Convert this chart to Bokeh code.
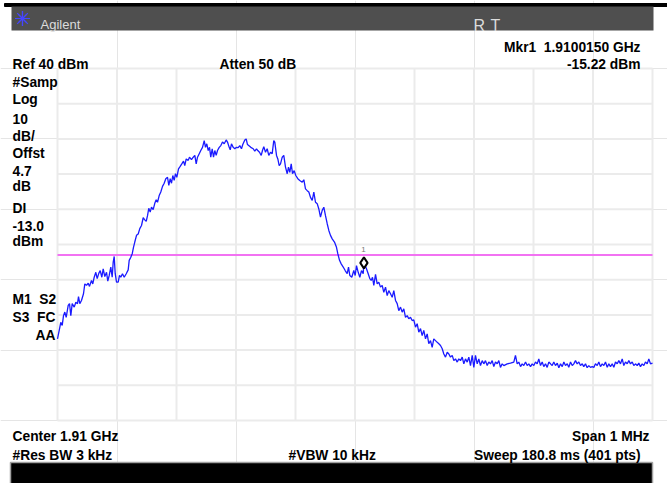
from bokeh.plotting import figure
from bokeh.models import Label, Range1d
from bokeh.embed import file_html
from bokeh.resources import INLINE

# ---------------- data ----------------
center_ghz = 1.91
span_mhz = 1.0
ref_dbm = 40.0
db_per_div = 10.0
n_div = 10
display_line_dbm = -13.0
marker_khz = 15.0          # 1.9100150 GHz
marker_dbm = -15.22

freq_khz_a = [
    -500, -497.1, -494.5, -492.1, -489.9, -487.7, -485.4, -482.0, -479.8, -477.6,
    -475.3, -471.9, -469.2, -466.4, -464.7, -462.5, -459.7, -456.3, -454.1, -451.3,
    -448.4, -446.2, -442.9, -440.7, -438.3, -435.6, -433.3, -430.6, -428.2, -425.5,
    -423.2, -420.5, -417.6, -415.5, -413.1, -410.4, -408.1, -406.4, -404.7, -403.0,
    -400.8, -398.0, -395.8, -393.6, -390.8, -387.9, -384.5, -381.2, -379.5, -376.8,
    -374.4, -372.3, -370.1, -367.2, -364.4, -361.7, -358.8, -356.0, -353.3, -350.9,
    -348.7, -346.6, -344.2, -342.0, -339.2, -336.5, -334.1, -331.9, -329.1, -326.4,
    -323.5, -320.7, -318.0, -315.1, -312.9, -310.6, -308.4, -306.2, -303.9, -301.7,
    -299.5, -296.6, -293.8, -291.1, -288.2, -286.1, -283.7, -280.3, -278.2, -274.8,
    -271.9, -269.2, -266.9, -264.7, -261.8, -259.2, -256.3, -253.4, -251.3, -249.1,
    -246.7, -244.5, -242.4, -240.0, -237.8, -235.6, -233.3, -231.1, -228.2, -225.5,
    -222.7, -219.8, -216.5, -214.3, -211.4, -209.7, -207.6, -204.7, -202.0, -199.2,
    -196.3, -193.6, -190.8, -188.6, -185.2, -182.9, -180.7, -175.1,
]
level_dbm_a = [
    -36.8, -34.4, -32.1, -33.0, -30.2, -29.2, -30.7, -27.3, -26.8, -30.2,
    -26.8, -27.8, -26.4, -26.8, -24.8, -26.8, -25.9, -24.0, -21.2, -21.6,
    -21.0, -21.9, -20.2, -21.2, -19.3, -17.9, -19.7, -18.2, -17.4, -19.3,
    -16.9, -19.1, -17.9, -20.4, -18.8, -16.4, -19.3, -15.0, -13.4, -18.3,
    -20.7, -20.7, -18.8, -19.3, -18.3, -19.3, -18.3, -17.2, -14.5, -13.6,
    -12.6, -10.8, -9.3, -7.4, -7.0, -5.5, -4.6, -2.4, -3.0, -3.4,
    -1.8, 0.3, -0.8, 0.6, -0.1, 1.7, 2.7, 2.0, 3.9, 4.9,
    6.5, 7.4, 8.7, 9.1, 6.8, 8.7, 7.4, 9.6, 8.2, 10.1,
    9.1, 11.5, 12.2, 12.9, 13.7, 12.4, 14.3, 13.9, 14.8, 14.1,
    14.8, 15.3, 12.9, 14.8, 15.8, 16.7, 17.6, 19.5, 17.6, 18.6,
    16.7, 17.6, 14.8, 17.2, 14.8, 16.7, 15.3, 16.7, 17.6, 18.1,
    19.1, 18.6, 19.7, 19.1, 17.6, 16.9, 18.6, 17.6, 17.2, 17.6,
    17.5, 18.1, 17.2, 18.4, 19.7, 20.0, 18.4, 17.6,
]
freq_khz_b = [
    -171.1, -168.4, -165.5, -163.4, -160.5, -157.6, -155.5, -153.3, -150.4, -147.6,
    -144.9, -142.0, -139.2, -136.5, -134.8, -131.9, -129.7, -127.4, -125.2, -122.3,
    -119.7, -116.8, -113.9, -111.8, -109.6, -107.2, -105.0, -102.2, -99.5, -96.1,
    -92.8, -88.7, -86.0, -83.2, -80.3, -77.6, -74.8, -71.9, -69.2, -66.4,
    -63.5, -60.8, -58.0, -55.1, -52.4, -49.6, -46.7, -44.0, -41.2, -38.3,
    -34.5, -31.1, -28.9, -26.0, -23.2, -19.8, -16.5, -13.1, -10.9, -8.7,
    -5.4, -2.0, 0.3, 2.5, 5.4, 8.1, 10.9, 13.8, 15.0, 19.3,
    22.2, 24.9, 27.2, 29.4, 31.6, 34.5, 37.3, 40.0, 42.9, 45.7,
    48.4, 51.3, 54.1, 56.8, 59.7, 62.5, 65.2, 68.1, 70.9, 73.6,
    76.5, 79.3, 82.0, 84.9, 87.7, 90.4, 93.3, 96.1, 98.8, 101.7,
    104.5, 107.2, 110.1, 112.9, 115.6, 118.5, 121.3, 124.0, 126.9, 129.7,
    132.4, 135.3, 138.2, 140.9, 143.7,
]
level_dbm_b = [
    17.2, 16.5, 17.2, 16.7, 16.2, 15.3, 16.7, 17.8, 16.2, 17.2,
    15.3, 16.2, 15.8, 19.5, 19.1, 15.3, 14.3, 12.4, 12.9, 14.8,
    15.3, 12.0, 10.1, 12.0, 10.5, 12.9, 10.1, 11.0, 9.6, 8.7,
    8.2, 7.7, 8.4, 5.8, 5.3, 4.9, 3.4, 2.5, 4.9, 2.0,
    1.6, 0.1, -2.2, -0.3, 0.6, -1.8, -4.1, -6.0, -7.4, -8.4,
    -9.3, -10.8, -12.6, -14.5, -15.5, -16.4, -17.4, -18.3, -16.4, -18.8,
    -19.3, -17.4, -18.8, -16.0, -17.9, -19.3, -17.4, -18.3, -15.2, -16.9,
    -18.3, -19.7, -20.2, -19.3, -21.6, -18.5, -21.2, -20.7, -22.1, -21.6,
    -23.6, -22.1, -24.5, -23.1, -24.0, -25.0, -23.1, -25.9, -26.8, -28.8,
    -27.8, -29.2, -28.3, -30.7, -30.2, -31.1, -30.7, -31.6, -31.4, -33.5,
    -32.5, -34.9, -33.9, -35.9, -34.4, -36.8, -35.4, -38.2, -37.3, -39.2,
    -36.8, -37.3, -37.8, -38.2, -38.7,
]
freq_khz_c = [
    146.6, 149.3, 152.1, 155.0, 157.7, 160.5, 163.4, 166.1, 168.9, 171.8,
    174.5, 177.3, 180.2, 182.9, 185.7, 188.6, 191.3, 194.1, 197.0, 199.7,
    202.5, 205.4, 208.1, 210.9, 213.8, 216.5, 219.3, 222.2, 224.9, 227.7,
    230.6, 233.3, 236.1, 239.0, 241.7, 244.5, 247.4, 250.1, 255.8, 261.3,
    266.9, 269.7, 272.6, 275.3, 278.2, 281.0, 283.7, 286.6, 289.4, 292.1,
    295.0, 297.8, 300.5, 303.4, 306.2, 308.9, 311.8, 314.6, 317.3, 320.2,
    323.0, 325.7, 328.6, 331.4, 334.1, 337.0, 339.9, 342.6, 345.4, 348.3,
    351.0, 353.8, 356.7, 359.3, 362.2, 365.1, 367.7, 370.6, 373.4, 376.2,
    379.0, 381.9, 384.5, 387.4, 390.2, 392.9, 395.8, 398.7, 401.4, 404.2,
    407.1, 409.8, 412.6, 415.5, 418.2, 421.0, 423.9, 426.6, 429.4, 432.3,
    435.0, 437.8, 440.7, 443.4, 446.2, 449.1, 451.8, 454.6, 457.5, 460.2,
    463.0, 465.9, 468.6, 471.4, 474.3, 477.0, 479.8, 482.7, 485.4, 488.2,
    491.1, 493.8, 496.6, 500.0,
]
level_dbm_c = [
    -39.6, -41.1, -42.0, -40.6, -41.1, -42.0, -41.5, -43.0, -42.5, -43.4,
    -42.5, -43.0, -42.0, -43.9, -42.5, -43.4, -42.0, -44.4, -41.5, -44.9,
    -41.5, -43.9, -42.5, -44.4, -43.0, -43.9, -43.0, -44.4, -43.4, -43.9,
    -43.0, -44.7, -43.4, -43.9, -43.0, -44.9, -43.9, -44.4, -43.9, -43.7,
    -43.4, -41.5, -43.9, -43.4, -44.7, -43.9, -44.4, -43.4, -44.4, -43.9,
    -44.7, -43.9, -44.4, -43.4, -43.9, -42.5, -44.4, -43.4, -44.7, -43.9,
    -44.9, -43.4, -43.9, -44.4, -43.4, -44.4, -43.7, -45.0, -43.9, -44.7,
    -43.4, -44.4, -43.9, -44.9, -43.4, -44.4, -43.9, -43.0, -43.9, -43.4,
    -44.4, -43.9, -44.7, -43.9, -45.0, -44.4, -44.9, -44.7, -44.9, -43.9,
    -44.4, -43.4, -44.7, -43.9, -44.4, -43.4, -44.9, -43.9, -44.7, -43.9,
    -44.9, -43.4, -43.9, -43.0, -43.9, -42.5, -44.4, -43.4, -43.9, -43.0,
    -43.9, -43.4, -44.4, -43.9, -44.4, -43.7, -44.7, -43.9, -44.4, -43.4,
    -43.9, -42.5, -43.9, -43.7,
]

NB = "\u00a0"
top_texts = ["Mkr1" + NB + NB + "1.9100150 GHz", "Ref 40 dBm", "Atten 50 dB", "-15.22 dBm"]
left_texts = ["#Samp", "Log", "10", "dB/", "Offst", "4.7", "dB", "DI", "-13.0", "dBm"]
status_texts = ["M1" + NB + NB + "S2", "S3" + NB + NB + "FC", "AA"]
bottom_texts = ["Center 1.91 GHz", "Span 1 MHz", "#Res BW 3 kHz", "#VBW 10 kHz",
                "Sweep 180.8 ms (401 pts)"]

# ---------------- layout (pixels of the screen image) ----------------
W, H = 667, 483
GL, GR, GT, GB = 57, 652, 68, 420
span_khz = span_mhz * 1000.0
kx = span_khz / (GR - GL)
ky = db_per_div * n_div / (GB - GT)
x0 = -span_khz / 2 - GL * kx
x1 = x0 + W * kx
ytop = ref_dbm + GT * ky
ybot = ytop - H * ky


def dx(px):
    return x0 + px * kx


def dy(py):
    return ytop - py * ky


p = figure(width=W, height=H, x_range=Range1d(x0, x1), y_range=Range1d(ybot, ytop),
           output_backend="svg", toolbar_location=None,
           x_axis_location=None, y_axis_location=None,
           min_border=0, outline_line_color=None,
           background_fill_color="white", border_fill_color="white")

# title bar & bottom bar
p.quad(left=[dx(4)], right=[dx(667)], top=[dy(3)], bottom=[dy(6)], color="black")
p.quad(left=[dx(11)], right=[dx(653)], top=[dy(6)], bottom=[dy(30)],
       fill_color="#4f4f4f", line_color=None)
p.quad(left=[dx(10)], right=[dx(652)], top=[dy(462)], bottom=[dy(484)],
       fill_color="black", line_color="#a0a0a0", line_width=1.5)
for mk, sz in (("asterisk", 15), ("cross", 15), ("x", 11)):
    p.scatter(x=[dx(22)], y=[dy(18)], marker=mk, size=sz,
              line_color="#4646ff", line_width=1.2)

# graticule
bottom_dbm = ref_dbm - db_per_div * n_div
vx = [-span_khz / 2 + i * span_khz / n_div for i in range(n_div + 1)]
hy = [ref_dbm - i * db_per_div for i in range(n_div + 1)]
p.segment(x0=vx, y0=[bottom_dbm] * len(vx), x1=vx, y1=[ref_dbm] * len(vx),
          line_color="#ebebeb", line_width=2)
p.segment(x0=[-span_khz / 2] * len(hy), y0=hy, x1=[span_khz / 2] * len(hy), y1=hy,
          line_color="#ebebeb", line_width=2)

# display line
p.line(x=[-span_khz / 2, span_khz / 2], y=[display_line_dbm, display_line_dbm],
       line_color="#f272f2", line_width=2)

# trace
freq = freq_khz_a + freq_khz_b + freq_khz_c
lev = level_dbm_a + level_dbm_b + level_dbm_c
n = min(len(freq), len(lev))
p.line(x=freq[:n], y=lev[:n], line_color="#1a1aff", line_width=1.3)

# marker
p.scatter(x=[marker_khz], y=[marker_dbm], marker="diamond", size=11,
          fill_color="white", line_color="black", line_width=2)


def lab(text, px, py, align="left", size="13.8px", bold=True, color="black"):
    p.add_layout(Label(x=px, y=H - py, x_units="screen", y_units="screen", text=text,
                       text_align=align, text_baseline="alphabetic",
                       text_font="Liberation Sans", text_font_size=size,
                       text_font_style="bold" if bold else "normal", text_color=color))


lab("1", 363, 249, align="center", size="8px", bold=False, color="#777777")
lab("Agilent", 40, 24, size="13px", bold=False, color="#dcdcdc")
lab("R", 473, 25, size="16px", bold=False, color="#dcdcdc")
lab("T", 490, 25, size="16px", bold=False, color="#dcdcdc")

lab(top_texts[0], 640, 47, align="right")
lab(top_texts[1], 12, 64)
lab(top_texts[2], 219, 64)
lab(top_texts[3], 640, 64, align="right")

left_base = [82, 99, 118, 136, 153, 170, 186, 208, 225, 241]
for t, b in zip(left_texts, left_base):
    lab(t, 12, b)
lab(status_texts[0], 12, 299)
lab(status_texts[1], 12, 317)
lab(status_texts[2], 55, 335, align="right")

lab(bottom_texts[0], 12, 436)
lab(bottom_texts[1], 649, 436, align="right")
lab(bottom_texts[2], 12, 455)
lab(bottom_texts[3], 288, 455)
lab(bottom_texts[4], 640, 455, align="right")

open("out.html", "w").write(file_html(p, INLINE))
